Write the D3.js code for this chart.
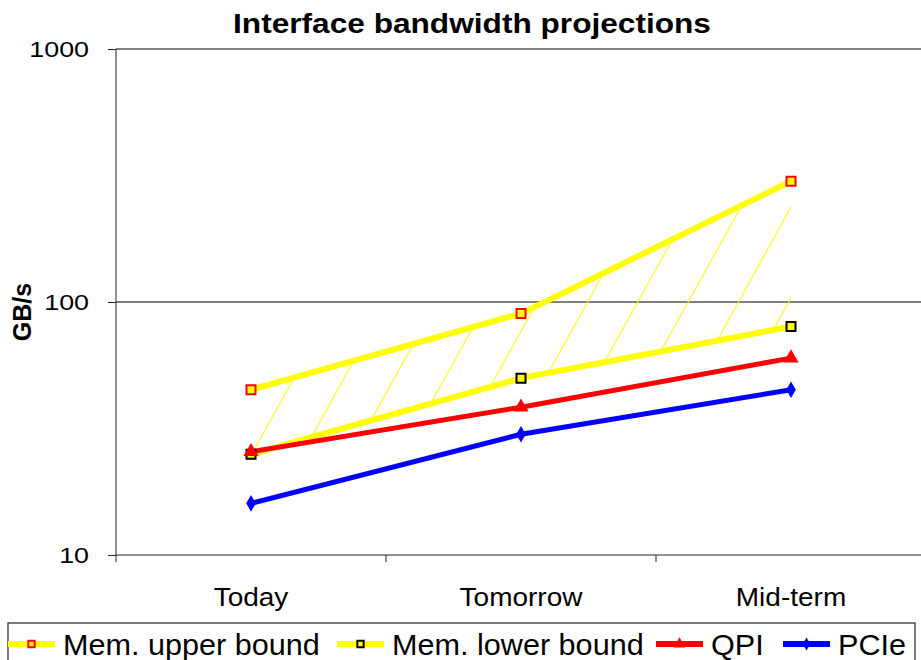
<!DOCTYPE html>
<html>
<head>
<meta charset="utf-8">
<script src="https://cdn.jsdelivr.net/npm/d3@7"></script>
<style>
  html, body { margin: 0; padding: 0; background: #fff; }
  svg { display: block; font-family: "Liberation Sans", Arial, sans-serif; }
</style>
</head>
<body>
<svg id="chart" width="921" height="660"></svg>
<script>
// Interface bandwidth figures (GB/s)
const categories = ["Today", "Tomorrow", "Mid-term"];
const memUpper = [45, 90, 300];
const memLower = [25, 50, 80];
const qpi = [25.6, 38.4, 60];
const pcie = [16, 30, 45];
const yTicks = [10, 100, 1000];
const seriesNames = ["Mem. upper bound", "Mem. lower bound", "QPI", "PCIe"];

const svg = d3.select("#chart");
const W = 921, H = 660;
const plot = { left: 116, top: 49, bottom: 555, bandW: 270 };

const x = d3.scaleBand()
  .domain(categories)
  .range([plot.left, plot.left + plot.bandW * categories.length])
  .paddingInner(0).paddingOuter(0);
const cx = c => x(c) + x.bandwidth() / 2;

const y = d3.scaleLog().domain([10, 1000]).range([plot.bottom, plot.top]);

// text placed at (px, py), widened horizontally by factor f
function wideText(parent, px, py, str, size, f, anchor, bold) {
  return parent.append("text")
    .attr("transform", `translate(${px},${py}) scale(${f},1)`)
    .attr("text-anchor", anchor)
    .attr("font-size", size)
    .attr("font-weight", bold ? "bold" : "normal")
    .attr("fill", "#000")
    .text(str);
}

// Title
wideText(svg, 472, 33, "Interface bandwidth projections", 28, 1.13, "middle", true);

// Gridlines
svg.append("line")
  .attr("x1", plot.left).attr("x2", W)
  .attr("y1", y(1000)).attr("y2", y(1000))
  .attr("stroke", "#808080").attr("stroke-width", 2);
svg.append("line")
  .attr("x1", plot.left).attr("x2", W)
  .attr("y1", y(100)).attr("y2", y(100))
  .attr("stroke", "#000").attr("stroke-width", 1);

// Y axis (tick marks from d3, labels drawn separately)
const yAxis = d3.axisLeft(y).tickValues(yTicks).tickFormat("").tickSize(8);
const gy = svg.append("g").attr("transform", `translate(${plot.left},0)`).call(yAxis);
gy.select(".domain").attr("stroke", "#222").attr("d", `M0,${y(1000)}V${y(10)}`);
gy.selectAll(".tick line").attr("stroke", "#222");
yTicks.forEach(t => {
  wideText(svg, plot.left - 27, y(t) + 8, d3.format("d")(t), 22, 1.22, "end", false);
});

// X axis
const xAxis = d3.axisBottom(x).tickSize(0).tickFormat("");
const gx = svg.append("g").attr("transform", `translate(0,${plot.bottom})`).call(xAxis);
gx.select(".domain").attr("stroke", "#222").attr("d", `M${plot.left},0H${W}`);
gx.selectAll(".cat-tick")
  .data(categories)
  .enter().append("line")
  .attr("class", "cat-tick")
  .attr("x1", d => x(d)).attr("x2", d => x(d))
  .attr("y1", 0).attr("y2", 7)
  .attr("stroke", "#222");
categories.forEach(c => {
  wideText(svg, cx(c), plot.bottom + 51, c, 25, 1.12, "middle", false);
});

// Y label
svg.append("text")
  .attr("transform", "translate(31,312) rotate(-90)")
  .attr("text-anchor", "middle")
  .attr("font-size", 25).attr("font-weight", "bold")
  .text("GB/s");

// Hatched band between memory bounds
const defs = svg.append("defs");
const hatch = defs.append("pattern")
  .attr("id", "hatch")
  .attr("patternUnits", "userSpaceOnUse")
  .attr("width", 44).attr("height", 44)
  .attr("patternTransform", `translate(${cx(categories[0])},${y(memLower[0])}) rotate(29)`);
hatch.append("rect")
  .attr("x", -1).attr("y", 0).attr("width", 2).attr("height", 44)
  .attr("fill", "#FFFF00");

const band = d3.area()
  .x((d, i) => cx(categories[i]))
  .y0((d, i) => y(memLower[i]))
  .y1(d => y(d));
svg.append("path")
  .datum(memUpper)
  .attr("d", band)
  .attr("fill", "url(#hatch)");

// Lines
const line = d3.line().x((d, i) => cx(categories[i])).y(d => y(d));
const series = [
  { name: seriesNames[0], values: memUpper, color: "#FFFF00", width: 6 },
  { name: seriesNames[1], values: memLower, color: "#FFFF00", width: 6 },
  { name: seriesNames[2], values: qpi, color: "#FF0000", width: 5 },
  { name: seriesNames[3], values: pcie, color: "#0000FF", width: 5 }
];
series.forEach(s => {
  svg.append("path")
    .datum(s.values)
    .attr("d", line)
    .attr("fill", "none")
    .attr("stroke", s.color)
    .attr("stroke-width", s.width)
    .attr("stroke-linejoin", "round");
});

// Markers
const sq = d3.symbol().type(d3.symbolSquare).size(81);
const tri = d3.symbol().type(d3.symbolTriangle).size(100);
const dia = d3.symbol().type(d3.symbolDiamond).size(80);
function markers(vals, path, fill, stroke, sw) {
  svg.append("g").selectAll("path")
    .data(vals).enter().append("path")
    .attr("transform", (d, i) => `translate(${cx(categories[i])},${y(d)})`)
    .attr("d", path)
    .attr("fill", fill)
    .attr("stroke", stroke)
    .attr("stroke-width", sw);
}
markers(memUpper, sq, "#FFFF00", "#FF0000", 2);
markers(memLower, sq, "#FFFF00", "#000000", 2);
markers(qpi, tri, "#FF0000", "none", 0);
markers(pcie, dia, "#0000FF", "none", 0);

// Legend
svg.append("rect")
  .attr("x", 8).attr("y", 623)
  .attr("width", 907).attr("height", 60)
  .attr("fill", "none").attr("stroke", "#222").attr("stroke-width", 1.2);

const legendItems = [
  { s: series[0], x0: 8, mark: sq, fill: "#FFFF00", stroke: "#FF0000", sw: 2, tx: 63, sz: 40 },
  { s: series[1], x0: 337, mark: sq, fill: "#FFFF00", stroke: "#000000", sw: 2, tx: 392, sz: 40 },
  { s: series[2], x0: 656, mark: tri, fill: "#FF0000", stroke: "none", sw: 0, tx: 711, sz: 60 },
  { s: series[3], x0: 783, mark: dia, fill: "#0000FF", stroke: "none", sw: 0, tx: 838, sz: 50 }
];
const ly = 644;
legendItems.forEach(it => {
  const g = svg.append("g");
  g.append("line")
    .attr("x1", it.x0).attr("x2", it.x0 + 47)
    .attr("y1", ly).attr("y2", ly)
    .attr("stroke", it.s.color).attr("stroke-width", 6);
  g.append("path")
    .attr("transform", `translate(${it.x0 + 23.5},${ly})`)
    .attr("d", it.mark.size(it.sz)())
    .attr("fill", it.fill).attr("stroke", it.stroke).attr("stroke-width", it.sw);
  wideText(g, it.tx, 655, it.s.name, 30, 1.02, "start", false);
});
</script>
</body>
</html>
